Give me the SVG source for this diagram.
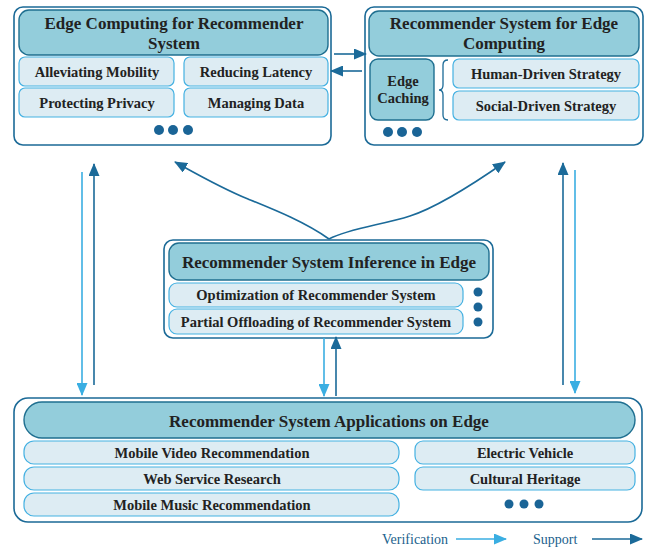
<svg xmlns="http://www.w3.org/2000/svg" width="653" height="549" viewBox="0 0 653 549">
  <style>
    .outer { fill: #ffffff; stroke: #1b6a97; stroke-width: 1.6; }
    .head { fill: #93cddb; stroke: #1f6f90; stroke-width: 1.4; }
    .sub { fill: #ddecf3; stroke: #45b1e2; stroke-width: 1.2; }
    .ht { font-family: "Liberation Serif", "Times New Roman", serif; font-weight: bold; font-size: 17px; fill: #222222; text-anchor: middle; }
    .st { font-family: "Liberation Serif", "Times New Roman", serif; font-weight: bold; font-size: 14.5px; fill: #222222; text-anchor: middle; }
    .lg { font-family: "Liberation Serif", "Times New Roman", serif; font-size: 14px; fill: #1b5f8d; }
    .dot { fill: #1a6496; }
    .dark { fill: none; stroke: #1b6a99; stroke-width: 1.6; }
    .light { fill: none; stroke: #3aaee2; stroke-width: 1.6; }
  </style>
  <defs>
    <marker id="ah-dark" viewBox="0 0 13 11" refX="12" refY="5.5" markerWidth="13" markerHeight="11" markerUnits="userSpaceOnUse" orient="auto">
      <path d="M0,0 L13,5.5 L0,11 z" fill="#1b6a99"/>
    </marker>
    <marker id="ah-light" viewBox="0 0 13 11" refX="12" refY="5.5" markerWidth="13" markerHeight="11" markerUnits="userSpaceOnUse" orient="auto">
      <path d="M0,0 L13,5.5 L0,11 z" fill="#3aaee2"/>
    </marker>
  </defs>

  <!-- Edge computing for recommender system -->
  <g id="ec4rs">
    <rect class="outer" x="14" y="7" width="317" height="138" rx="9"/>
    <rect class="head" x="19" y="10" width="309" height="45" rx="10"/>
    <text class="ht" x="174" y="29">Edge Computing for Recommender</text>
    <text class="ht" x="174" y="49">System</text>
    <rect class="sub" x="19" y="57" width="155" height="29" rx="6"/>
    <text class="st" x="97" y="76.5">Alleviating Mobility</text>
    <rect class="sub" x="184" y="57" width="144" height="29" rx="6"/>
    <text class="st" x="256" y="76.5">Reducing Latency</text>
    <rect class="sub" x="19" y="88" width="155" height="29" rx="6"/>
    <text class="st" x="97" y="107.5">Protecting Privacy</text>
    <rect class="sub" x="184" y="88" width="144" height="29" rx="6"/>
    <text class="st" x="256" y="107.5">Managing Data</text>
    <circle class="dot" cx="159" cy="130" r="5"/>
    <circle class="dot" cx="173" cy="130" r="5"/>
    <circle class="dot" cx="188" cy="130" r="5"/>
  </g>

  <!-- Recommender system for edge computing -->
  <g id="rs4ec">
    <rect class="outer" x="365" y="7" width="278" height="138" rx="9"/>
    <rect class="head" x="369" y="11" width="270" height="45" rx="10"/>
    <text class="ht" x="504" y="29">Recommender System for Edge</text>
    <text class="ht" x="504" y="49">Computing</text>
    <rect class="head" x="370" y="59" width="64" height="61" rx="8"/>
    <text class="st" x="403" y="86">Edge</text>
    <text class="st" x="403" y="103">Caching</text>
    <path d="M448,60 Q443,60 443,65 L443,85 Q443,90 439,90 Q443,90 443,95 L443,115 Q443,120 448,120" fill="none" stroke="#1b6a97" stroke-width="1.3"/>
    <rect class="sub" x="453" y="59" width="186" height="29" rx="6"/>
    <text class="st" x="546" y="78.5">Human-Driven Strategy</text>
    <rect class="sub" x="453" y="91" width="186" height="29" rx="6"/>
    <text class="st" x="546" y="110.5">Social-Driven Strategy</text>
    <circle class="dot" cx="388" cy="132" r="5"/>
    <circle class="dot" cx="402" cy="132" r="5"/>
    <circle class="dot" cx="417" cy="132" r="5"/>
  </g>

  <!-- Recommender system inference in edge -->
  <g id="rs-inference">
    <rect class="outer" x="164" y="240" width="329" height="98" rx="9"/>
    <rect class="head" x="169" y="243" width="320" height="37" rx="10"/>
    <text class="ht" x="329" y="267.5">Recommender System Inference in Edge</text>
    <rect class="sub" x="169" y="283" width="294" height="24" rx="8"/>
    <text class="st" x="316" y="300">Optimization of Recommender System</text>
    <rect class="sub" x="169" y="309" width="294" height="25" rx="8"/>
    <text class="st" x="316" y="326.5">Partial Offloading of Recommender System</text>
    <circle class="dot" cx="478" cy="292" r="4.5"/>
    <circle class="dot" cx="478" cy="307" r="4.5"/>
    <circle class="dot" cx="478" cy="322" r="4.5"/>
  </g>

  <!-- Recommender system applications on edge -->
  <g id="rs-applications">
    <rect class="outer" x="14" y="398" width="628" height="124" rx="14"/>
    <rect class="head" x="24" y="402" width="611" height="36" rx="18"/>
    <text class="ht" x="329" y="426.5">Recommender System Applications on Edge</text>
    <rect class="sub" x="24" y="441" width="375" height="23" rx="10"/>
    <text class="st" x="212" y="457.5">Mobile Video Recommendation</text>
    <rect class="sub" x="24" y="467" width="375" height="23" rx="10"/>
    <text class="st" x="212" y="483.5">Web Service Research</text>
    <rect class="sub" x="24" y="493" width="375" height="23" rx="10"/>
    <text class="st" x="212" y="509.5">Mobile Music Recommendation</text>
    <rect class="sub" x="415" y="441" width="220" height="23" rx="8"/>
    <text class="st" x="525" y="457.5">Electric Vehicle</text>
    <rect class="sub" x="415" y="467" width="220" height="23" rx="8"/>
    <text class="st" x="525" y="483.5">Cultural Heritage</text>
    <circle class="dot" cx="509" cy="504" r="4.5"/>
    <circle class="dot" cx="524" cy="504" r="4.5"/>
    <circle class="dot" cx="539" cy="504" r="4.5"/>
  </g>

  <!-- Connectors -->
  <g id="connectors">
    <line class="dark" x1="334" y1="54" x2="366" y2="54" marker-end="url(#ah-dark)"/>
    <line class="dark" x1="362" y1="71" x2="331" y2="71" marker-end="url(#ah-dark)"/>
    <path class="dark" d="M329,239 C305,222 275,210 248,199 S195,173 175,162" marker-end="url(#ah-dark)"/>
    <path class="dark" d="M329,239 C350,228 382,225 410,216 S472,185 505,162" marker-end="url(#ah-dark)"/>
    <line class="light" x1="82" y1="172" x2="82" y2="395" marker-end="url(#ah-light)"/>
    <line class="dark" x1="94" y1="385" x2="94" y2="164" marker-end="url(#ah-dark)"/>
    <line class="dark" x1="563" y1="385" x2="563" y2="163" marker-end="url(#ah-dark)"/>
    <line class="light" x1="575" y1="170" x2="575" y2="393" marker-end="url(#ah-light)"/>
    <line class="light" x1="324" y1="338" x2="324" y2="396" marker-end="url(#ah-light)"/>
    <line class="dark" x1="336" y1="396" x2="336" y2="337" marker-end="url(#ah-dark)"/>
  </g>

  <!-- Legend -->
  <g id="legend">
    <text class="lg" x="382" y="544">Verification</text>
    <line class="light" x1="456" y1="539" x2="506" y2="539" marker-end="url(#ah-light)"/>
    <text class="lg" x="533" y="544">Support</text>
    <line class="dark" x1="592" y1="539" x2="642" y2="539" marker-end="url(#ah-dark)"/>
  </g>
</svg>
